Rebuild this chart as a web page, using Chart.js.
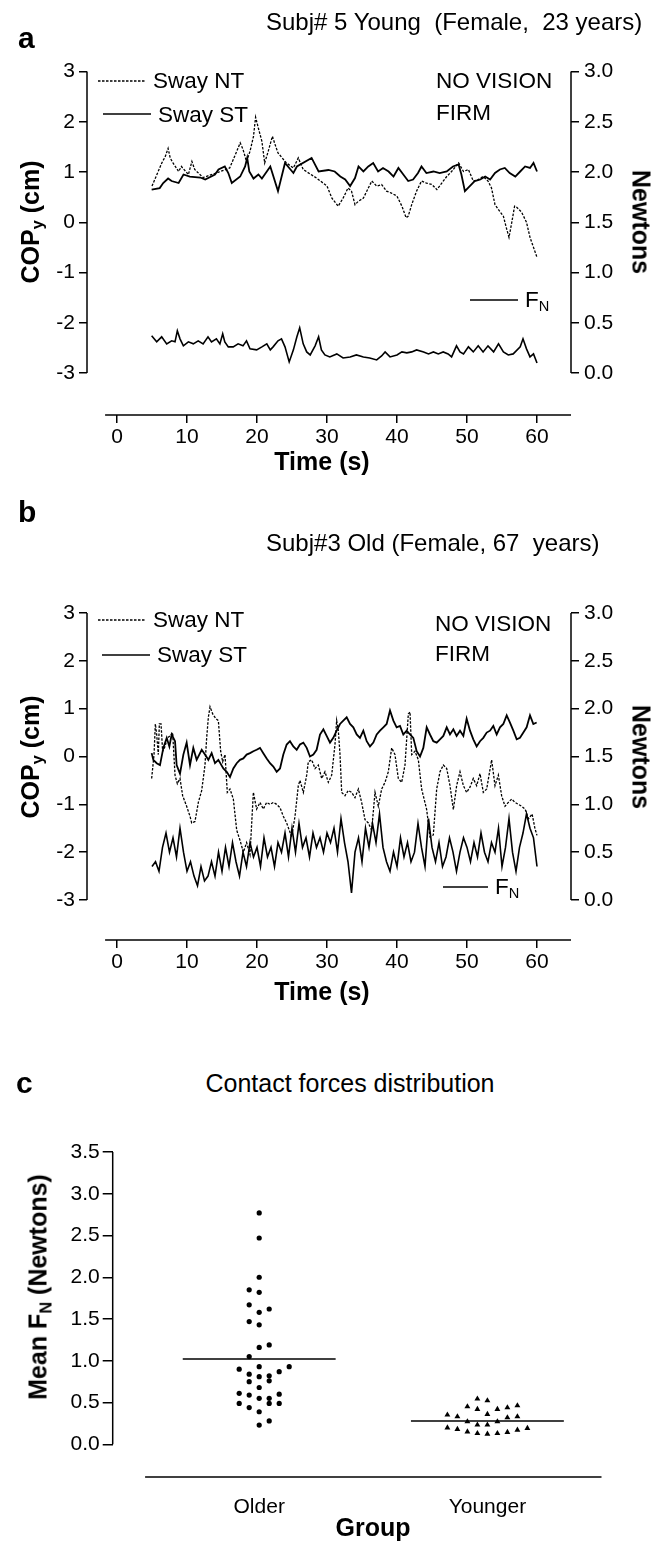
<!DOCTYPE html>
<html><head><meta charset="utf-8">
<script src="https://cdn.jsdelivr.net/npm/chart.js@4.4.1/dist/chart.umd.min.js"></script>
<style>
body{margin:0;background:#fff}
#fig{position:relative;width:654px;height:1547px;overflow:hidden;font-family:'Liberation Sans',Arial,Helvetica,sans-serif;color:#000;background:#fff}
canvas{position:absolute;left:0}
.t{position:absolute;white-space:pre;line-height:1;transform:translateY(-50%)}
.c{position:absolute;white-space:pre;line-height:1;transform:translate(-50%,-50%)}
.rl{position:absolute;white-space:pre;line-height:1;font-weight:bold;transform:translate(-50%,-50%) rotate(-90deg)}
.rr{position:absolute;white-space:pre;line-height:1;font-weight:bold;transform:translate(-50%,-50%) rotate(90deg)}
.letter{font-weight:bold;font-size:30px}
.title{font-size:24px}
.leg{font-size:22.5px}
.ax{font-size:25px}
sub{font-size:0.65em;vertical-align:-0.3em;line-height:0}
svg{position:absolute;overflow:visible}
</style></head>
<body>
<div id="fig">
<canvas id="chartA" width="654" height="480" style="top:0;width:654px;height:480px"></canvas>
<canvas id="chartB" width="654" height="480" style="top:540px;width:654px;height:480px"></canvas>
<canvas id="chartC" width="654" height="447" style="top:1100px;width:654px;height:447px"></canvas>

<div class="t letter" style="left:18px;top:38px">a</div>
<div class="t title" style="left:266px;top:22px">Subj# 5 Young  (Female,  23 years)</div>
<svg style="left:98px;top:80px" width="48" height="2"><line x1="0" y1="1" x2="48" y2="1" stroke="#000" stroke-width="1.3" stroke-dasharray="2.5 1.5"/></svg>
<div class="t leg" style="left:153px;top:81px">Sway NT</div>
<svg style="left:103px;top:113px" width="48" height="2"><line x1="0" y1="1" x2="48" y2="1" stroke="#000" stroke-width="1.6"/></svg>
<div class="t leg" style="left:158px;top:115px">Sway ST</div>
<div class="t leg" style="left:436px;top:81px">NO VISION</div>
<div class="t leg" style="left:436px;top:113px">FIRM</div>
<svg style="left:470px;top:299px" width="48" height="2"><line x1="0" y1="1" x2="48" y2="1" stroke="#000" stroke-width="1.6"/></svg>
<div class="t leg" style="left:525px;top:300px">F<sub>N</sub></div>
<div class="rl ax" style="left:30px;top:222px">COP<sub>y</sub> (cm)</div>
<div class="rr ax" style="left:641px;top:222px">Newtons</div>
<div class="c ax" style="left:322px;top:461px;font-weight:bold">Time (s)</div>

<div class="t letter" style="left:18px;top:512px">b</div>
<div class="t title" style="left:266px;top:543px">Subj#3 Old (Female, 67  years)</div>
<svg style="left:98px;top:619px" width="48" height="2"><line x1="0" y1="1" x2="48" y2="1" stroke="#000" stroke-width="1.3" stroke-dasharray="2.5 1.5"/></svg>
<div class="t leg" style="left:153px;top:620px">Sway NT</div>
<svg style="left:102px;top:654px" width="48" height="2"><line x1="0" y1="1" x2="48" y2="1" stroke="#000" stroke-width="1.6"/></svg>
<div class="t leg" style="left:157px;top:655px">Sway ST</div>
<div class="t leg" style="left:435px;top:624px">NO VISION</div>
<div class="t leg" style="left:435px;top:654px">FIRM</div>
<svg style="left:443px;top:886px" width="45" height="2"><line x1="0" y1="1" x2="45" y2="1" stroke="#000" stroke-width="1.6"/></svg>
<div class="t leg" style="left:495px;top:887px">F<sub>N</sub></div>
<div class="rl ax" style="left:30px;top:757px">COP<sub>y</sub> (cm)</div>
<div class="rr ax" style="left:641px;top:757px">Newtons</div>
<div class="c ax" style="left:322px;top:991px;font-weight:bold">Time (s)</div>

<div class="t letter" style="left:16px;top:1083px">c</div>
<div class="c title" style="left:350px;top:1083px;font-size:25px">Contact forces distribution</div>
<div class="rl ax" style="left:38px;top:1287px">Mean F<sub>N</sub> (Newtons)</div>
<div class="c ax" style="left:373px;top:1527px;font-weight:bold">Group</div>
</div>

<script>
// ---------- tick labels ----------
const timeTicks = [0, 10, 20, 30, 40, 50, 60];
const copTicks = [-3, -2, -1, 0, 1, 2, 3];
const newtonTicks = [0, 0.5, 1, 1.5, 2, 2.5, 3];
const forceTicks = [0, 0.5, 1, 1.5, 2, 2.5, 3, 3.5];
const groups = ['Older', 'Younger'];

// ---------- panel a: Subj# 5 Young ----------
const aTimeNT = [5.0,5.7,6.4,6.9,7.3,7.6,8.0,8.8,9.2,10.2,10.7,11.1,12.3,14.2,16.1,17.1,17.6,18.0,18.5,19.0,19.5,19.8,20.2,20.7,21.1,21.6,22.2,22.6,23.0,24.2,25.2,25.9,26.6,28.5,30.0,30.7,31.6,32.3,33.0,33.5,34.0,34.5,35.2,35.9,36.4,37.1,37.8,38.5,39.2,40.0,40.7,41.3,41.6,42.1,42.8,43.5,44.2,45.0,45.7,46.4,47.1,47.8,48.8,49.5,50.2,50.9,51.6,52.3,53.0,53.5,54.0,54.5,55.2,55.6,56.0,56.4,56.8,57.1,57.8,58.5,59.0,59.5,60.0];
const aCopNT = [0.72,0.95,1.18,1.31,1.47,1.28,1.18,1.01,1.11,0.95,1.21,1.05,0.89,0.98,1.08,1.41,1.58,1.45,1.21,1.41,1.71,2.09,1.87,1.61,1.18,1.41,1.71,1.54,1.38,1.18,1.08,1.28,1.05,0.88,0.72,0.48,0.32,0.48,0.68,0.62,0.35,0.42,0.48,0.68,0.82,0.72,0.75,0.62,0.58,0.52,0.32,0.09,0.12,0.35,0.62,0.82,0.78,0.75,0.65,0.78,0.91,1.01,1.18,1.01,1.05,0.82,0.85,0.91,0.82,0.68,0.35,0.25,0.12,-0.1,-0.3,0.0,0.32,0.3,0.2,0.0,-0.3,-0.5,-0.7];
const aTimeST = [4.95,6.1,6.6,7.3,7.8,8.8,9.5,10.4,11.9,12.6,14.0,14.5,15.4,15.9,16.4,17.6,18.3,18.6,18.9,19.5,20.2,20.7,21.9,23.0,24.0,25.2,25.7,27.8,28.8,30.2,31.1,31.9,32.6,33.3,34.0,34.5,35.2,35.9,36.6,37.3,38.0,38.8,39.5,40.2,40.9,41.6,42.3,43.0,43.5,44.2,45.2,46.1,47.1,48.0,48.8,49.2,49.7,50.4,51.1,51.9,52.6,53.3,54.0,54.7,55.4,56.1,56.9,57.6,58.3,59.0,59.5,60.0];
const aCopST = [0.65,0.68,0.78,0.87,0.82,0.78,0.95,0.91,0.89,0.85,0.95,1.05,1.11,0.98,0.78,0.91,1.11,1.28,1.01,0.87,0.95,0.87,1.11,0.62,1.18,0.98,1.11,1.28,1.01,1.04,1.01,0.91,0.85,0.72,0.88,1.11,1.01,1.11,1.18,1.01,1.08,1.01,0.91,1.08,0.95,0.82,0.85,0.98,1.11,0.98,1.01,0.98,1.01,1.11,1.15,0.95,0.62,0.72,0.82,0.85,0.91,0.85,0.98,1.05,1.08,0.98,0.91,1.01,1.11,1.08,1.18,1.01];
const aTimeFN = [4.95,5.67,6.38,7.1,7.81,8.29,8.62,9.0,9.48,10.2,10.9,11.6,12.3,13.0,13.5,14.2,14.7,15.1,15.4,15.9,16.6,17.3,18.0,18.5,19.0,19.95,20.7,21.4,21.9,22.3,23.0,23.5,24.0,24.6,25.2,25.7,26.1,26.6,27.1,27.6,28.3,28.8,29.2,29.7,30.4,31.4,32.3,33.3,34.2,35.2,36.1,37.1,37.8,38.3,39.0,40.0,40.7,41.4,42.1,42.8,43.8,44.5,45.2,45.9,46.6,47.3,47.8,48.5,49.0,49.5,50.2,50.9,51.6,52.3,53.0,53.8,54.5,55.2,55.9,56.6,57.6,58.0,58.5,59.0,59.5,60.0];
const aForceFN = [0.37,0.31,0.36,0.29,0.32,0.31,0.42,0.34,0.27,0.31,0.29,0.32,0.29,0.36,0.31,0.34,0.29,0.39,0.31,0.26,0.26,0.29,0.27,0.32,0.24,0.23,0.26,0.29,0.23,0.26,0.32,0.34,0.26,0.11,0.23,0.36,0.45,0.29,0.21,0.18,0.27,0.36,0.23,0.18,0.16,0.19,0.15,0.16,0.18,0.16,0.15,0.13,0.17,0.21,0.16,0.18,0.21,0.20,0.21,0.23,0.21,0.19,0.21,0.19,0.21,0.19,0.16,0.27,0.21,0.19,0.26,0.21,0.27,0.21,0.27,0.21,0.29,0.21,0.18,0.19,0.26,0.34,0.24,0.16,0.19,0.10];

// ---------- panel b: Subj#3 Old ----------
const bTimeNT = [4.95,5.29,5.48,5.67,5.9,6.05,6.29,6.52,6.86,7.19,7.57,7.95,8.29,8.62,9.0,9.38,9.95,10.43,10.67,11.14,11.62,12.1,12.57,12.81,13.05,13.29,13.67,14.14,14.48,14.81,15.1,15.43,15.76,16.14,16.62,17.1,17.57,18.05,18.52,19.0,19.48,19.95,20.43,20.9,21.38,21.86,22.33,22.81,23.29,23.76,24.24,24.95,25.43,25.9,26.14,26.62,27.1,27.33,27.81,28.29,28.76,29.24,29.71,30.19,30.67,31.14,31.38,31.62,31.86,32.1,32.57,33.05,33.52,34.0,34.48,34.95,35.43,35.9,36.38,36.86,37.33,37.81,38.29,38.76,39.24,39.71,40.19,40.67,41.14,41.62,41.86,42.1,42.57,43.05,43.52,44.24,44.71,45.19,45.67,46.14,46.62,47.1,47.57,48.05,48.52,49.0,49.48,49.95,50.43,50.9,51.38,51.86,52.33,52.81,53.52,54.0,54.48,54.95,55.43,55.9,56.38,56.86,57.33,57.81,58.3,58.8,59.3,59.7,60.0];
const bCopNT = [-0.46,0.04,0.68,0.46,0.04,0.68,0.68,0.11,0.21,0.39,0.43,0.5,-0.39,-0.57,-0.46,-0.82,-1.04,-1.25,-1.39,-1.36,-0.96,-0.71,-0.18,0.39,0.82,1.04,0.89,0.79,0.75,0.11,-0.11,0.04,-0.75,-0.68,-0.89,-1.54,-1.75,-2.0,-1.8,-2.05,-0.75,-1.1,-0.96,-1.1,-0.96,-1.0,-0.96,-1.0,-1.07,-1.25,-1.39,-1.68,-1.25,-0.61,-0.5,-0.75,-0.39,-0.11,-0.07,-0.25,-0.18,-0.46,-0.32,-0.54,-0.39,0.25,0.75,0.54,0.04,-0.75,-0.82,-0.71,-0.75,-0.86,-0.68,-0.96,-1.32,-1.39,-1.54,-0.75,-1.04,-0.68,-0.54,-0.32,0.18,0.04,-0.46,-0.54,-0.18,0.89,0.93,0.04,0.11,-0.07,-0.68,-1.11,-1.68,-1.64,-0.68,-0.32,-0.18,-0.25,-0.61,-1.11,-0.61,-0.32,-0.61,-0.75,-0.64,-0.46,-0.61,-0.36,-0.75,-0.68,-0.07,-0.61,-0.39,-0.82,-1.04,-0.96,-0.89,-0.96,-1.0,-1.04,-1.1,-1.3,-1.2,-1.5,-1.65];
const bTimeST = [4.95,5.19,5.67,6.14,6.62,7.1,7.48,7.81,8.29,8.52,9.0,9.48,9.95,10.43,10.9,11.38,12.1,12.57,13.05,13.52,14.0,14.48,15.19,15.67,16.14,16.62,17.1,17.57,18.05,18.52,19.0,19.48,19.95,20.43,20.9,21.38,21.86,22.33,22.81,23.29,23.76,24.24,24.71,25.19,25.67,26.14,26.62,27.1,27.57,28.05,28.52,29.0,29.48,29.95,30.43,30.9,31.38,31.86,32.33,32.81,33.29,33.76,34.24,34.71,35.19,35.67,36.14,36.62,37.1,37.57,38.05,38.52,39.0,39.48,39.95,40.43,40.9,41.38,41.86,42.33,42.81,43.29,43.76,44.24,44.71,45.19,45.67,46.14,46.62,47.1,47.57,48.05,48.52,49.0,49.48,49.95,50.43,50.9,51.38,51.86,52.33,52.81,53.29,53.76,54.24,54.71,55.19,55.67,56.14,56.62,57.1,57.57,58.05,58.52,59.0,59.48,59.95];
const bCopST = [0.07,-0.07,-0.14,-0.18,0.18,0.39,0.21,0.46,0.32,-0.18,-0.36,0.04,0.29,-0.18,0.18,-0.07,0.14,0.04,-0.07,0.07,-0.14,-0.07,-0.25,-0.32,-0.43,-0.25,-0.14,-0.07,-0.04,0.04,0.07,0.11,0.14,0.18,0.07,-0.04,-0.14,-0.21,-0.32,-0.25,0.04,0.25,0.32,0.21,0.14,0.25,0.29,0.18,0.0,0.04,0.14,0.46,0.57,0.43,0.29,0.39,0.54,0.68,0.75,0.82,0.68,0.61,0.46,0.39,0.54,0.32,0.21,0.29,0.46,0.54,0.61,0.68,0.96,0.75,0.61,0.64,0.46,0.54,0.46,0.39,0.11,0.0,0.18,0.61,0.46,0.32,0.29,0.36,0.43,0.61,0.46,0.57,0.43,0.54,0.43,0.79,0.54,0.36,0.21,0.32,0.39,0.5,0.54,0.64,0.46,0.61,0.68,0.86,0.71,0.54,0.36,0.39,0.5,0.61,0.86,0.68,0.71];
const bTimeFN = [5.0,5.5,6.0,6.5,7.0,7.5,8.0,8.5,9.0,9.5,10.0,10.5,11.0,11.5,12.0,12.5,13.0,13.5,14.0,14.5,15.0,15.5,16.0,16.5,17.0,17.5,18.0,18.5,19.0,19.5,20.0,20.5,21.0,21.5,22.0,22.5,23.0,23.5,24.0,24.5,25.0,25.5,26.0,26.5,27.0,27.5,28.0,28.5,29.0,29.5,30.0,30.5,31.0,31.5,32.0,32.5,33.0,33.5,34.0,34.5,35.0,35.5,36.0,36.5,37.0,37.5,38.0,38.5,39.0,39.5,40.0,40.5,41.0,41.5,42.0,42.5,43.0,43.5,44.0,44.5,45.0,45.5,46.0,46.5,47.0,47.5,48.0,48.5,49.0,49.5,50.0,50.5,51.0,51.5,52.0,52.5,53.0,53.5,54.0,54.5,55.0,55.5,56.0,56.5,57.0,57.5,58.0,58.5,59.0,59.5,60.0];
const bForceFN = [0.35,0.40,0.30,0.55,0.70,0.50,0.65,0.45,0.75,0.50,0.30,0.40,0.25,0.15,0.35,0.20,0.25,0.40,0.25,0.50,0.30,0.55,0.35,0.60,0.40,0.25,0.50,0.35,0.60,0.45,0.55,0.35,0.65,0.45,0.55,0.35,0.60,0.50,0.70,0.45,0.75,0.50,0.80,0.55,0.65,0.45,0.70,0.55,0.65,0.50,0.70,0.60,0.75,0.50,0.85,0.60,0.40,0.075,0.50,0.65,0.40,0.75,0.55,0.80,0.60,0.90,0.55,0.40,0.30,0.50,0.35,0.65,0.45,0.60,0.40,0.50,0.80,0.55,0.35,0.85,0.55,0.40,0.60,0.35,0.45,0.65,0.50,0.30,0.50,0.65,0.55,0.40,0.60,0.45,0.70,0.50,0.40,0.60,0.50,0.75,0.35,0.55,0.85,0.50,0.30,0.55,0.70,0.90,0.75,0.65,0.35];

// ---------- panel c: contact forces ----------
const olderValues = [2.77,2.47,2.00,1.85,1.82,1.67,1.58,1.62,1.47,1.43,1.16,1.19,1.05,0.90,0.93,0.93,0.87,0.84,0.81,0.82,0.76,0.75,0.68,0.61,0.59,0.55,0.55,0.60,0.49,0.49,0.49,0.44,0.39,0.28,0.23];
const olderColumn = [0,0,0,-1,0,-1,0,1,-1,0,0,1,-1,-2,0,3,2,-1,0,1,1,-1,0,-2,-1,0,1,2,-2,1,2,-1,0,1,0];
const youngerValues = [0.544,0.523,0.451,0.42,0.42,0.439,0.463,0.352,0.331,0.36,0.319,0.331,0.271,0.271,0.232,0.232,0.199,0.18,0.151,0.132,0.124,0.132,0.144,0.172,0.192];
const youngerColumn = [-1,0,-2,-1,1,2,3,-4,-3,0,2,3,-2,1,-1,0,-4,-3,-2,-1,0,1,2,3,4];
const olderMean = 1.02;
const youngerMean = 0.28;

// ---------- helpers ----------
Chart.defaults.font.family = "'Liberation Sans', Arial, sans-serif";
Chart.defaults.color = '#000';

function pts(xs, ys) { return xs.map((x, i) => ({ x: x, y: ys[i] })); }
function tickList(values) { return s => { s.ticks = values.map(v => ({ value: v })); }; }
function fixW(w) { return s => { s.width = w; }; }
function fixH(h) { return s => { s.height = h; }; }
function axisLines(lines) {
  return {
    id: 'axisLines',
    afterDatasetsDraw(chart) {
      const ctx = chart.ctx, a = chart.chartArea;
      ctx.save(); ctx.strokeStyle = '#000'; ctx.lineWidth = 1.5;
      lines.forEach(l => {
        const s = chart.scales[l.scale];
        ctx.beginPath();
        if (s.isHorizontal()) {
          ctx.moveTo(s.getPixelForValue(l.from), a.bottom); ctx.lineTo(s.getPixelForValue(l.to), a.bottom);
        } else {
          const x = s.position === 'left' ? a.left : a.right;
          ctx.moveTo(x, s.getPixelForValue(l.from)); ctx.lineTo(x, s.getPixelForValue(l.to));
        }
        ctx.stroke();
      });
      ctx.restore();
    }
  };
}

function timePanel(id, d, g) {
  const unit = (g.lowPx - g.topPx) / 6;
  const yMin = -3 - (g.axisPx - g.lowPx) / unit;
  const y1Min = -(g.axisPx - g.lowPx) / (2 * unit);
  const xMin = (g.left - g.t0Px) / g.pxPerS, xMax = (g.right - g.t0Px) / g.pxPerS;
  const tickFont = { size: 21 };
  const grid = { drawOnChartArea: false, drawTicks: true, tickLength: 8, color: '#000', lineWidth: 1.5 };
  return new Chart(document.getElementById(id), {
    type: 'line',
    data: { datasets: [
      { label: 'Sway NT', data: pts(d.ntT, d.ntV), yAxisID: 'y', borderDash: [2.5, 1.5], borderWidth: 1.3 },
      { label: 'Sway ST', data: pts(d.stT, d.stV), yAxisID: 'y', borderWidth: 1.8 },
      { label: 'FN', data: pts(d.fnT, d.fnV), yAxisID: 'y1', borderWidth: 1.6 }
    ].map(ds => Object.assign({ borderColor: '#000', pointRadius: 0, tension: 0, fill: false }, ds)) },
    options: {
      responsive: false, animation: false, events: [],
      layout: { padding: { top: g.topPx, left: 0, right: 0, bottom: 0 } },
      plugins: { legend: { display: false }, tooltip: { enabled: false } },
      scales: {
        x: { type: 'linear', min: xMin, max: xMax, afterBuildTicks: tickList(timeTicks), afterFit: fixH(g.H - g.axisPx),
             border: { display: false }, grid: grid,
             ticks: { font: tickFont, padding: 2, maxRotation: 0, autoSkip: false, callback: v => String(v) } },
        y: { type: 'linear', position: 'left', min: yMin, max: 3, afterBuildTicks: tickList(copTicks), afterFit: fixW(g.left),
             border: { display: false }, grid: grid, ticks: { font: tickFont, padding: 4, callback: v => String(v) } },
        y1: { type: 'linear', position: 'right', min: y1Min, max: 3, afterBuildTicks: tickList(newtonTicks), afterFit: fixW(654 - g.right),
             border: { display: false }, grid: grid, ticks: { font: tickFont, padding: 5, callback: v => v.toFixed(1) } }
      }
    },
    plugins: [axisLines([{ scale: 'x', from: g.xLineFrom, to: xMax }, { scale: 'y', from: -3, to: 3 }, { scale: 'y1', from: 0, to: 3 }])]
  });
}

timePanel('chartA',
  { ntT: aTimeNT, ntV: aCopNT, stT: aTimeST, stV: aCopST, fnT: aTimeFN, fnV: aForceFN },
  { H: 480, topPx: 71.5, lowPx: 373, axisPx: 415, left: 87, right: 571, t0Px: 117, pxPerS: 7.0, xLineFrom: -1.7 });
timePanel('chartB',
  { ntT: bTimeNT, ntV: bCopNT, stT: bTimeST, stV: bCopST, fnT: bTimeFN, fnV: bForceFN },
  { H: 480, topPx: 73, lowPx: 360, axisPx: 400, left: 87, right: 571, t0Px: 117, pxPerS: 7.0, xLineFrom: -1.7 });

// panel c
(function () {
  const H = 447, top = 52, zeroPx = 344.3, axisPx = 377, left = 112.7, right = 602;
  const olderPx = 259.2, pxPerGroup = 228.2;
  const JIT = 10 / pxPerGroup, HALF = 0.335;
  const unit = (zeroPx - top) / 3.5;
  const yMin = -(axisPx - zeroPx) / unit;
  const xMin = 1 - (olderPx - left) / pxPerGroup, xMax = 1 + (right - olderPx) / pxPerGroup;
  const tickFont = { size: 21 };
  new Chart(document.getElementById('chartC'), {
    type: 'scatter',
    data: { datasets: [
      { data: olderValues.map((v, i) => ({ x: 1 + olderColumn[i] * JIT, y: v })), pointStyle: 'circle', pointRadius: 2.6, borderWidth: 0, backgroundColor: '#000', borderColor: '#000' },
      { data: youngerValues.map((v, i) => ({ x: 2 + youngerColumn[i] * JIT, y: v })), pointStyle: 'triangle', pointRadius: 3.4, borderWidth: 0, backgroundColor: '#000', borderColor: '#000' },
      { type: 'line', data: [{ x: 1 - HALF, y: olderMean }, { x: 1 + HALF, y: olderMean }], borderColor: '#000', borderWidth: 1.5, pointRadius: 0 },
      { type: 'line', data: [{ x: 2 - HALF, y: youngerMean }, { x: 2 + HALF, y: youngerMean }], borderColor: '#000', borderWidth: 1.5, pointRadius: 0 }
    ] },
    options: {
      responsive: false, animation: false, events: [],
      layout: { padding: { top: top, left: 0, right: 654 - right, bottom: 0 } },
      plugins: { legend: { display: false }, tooltip: { enabled: false } },
      scales: {
        x: { type: 'linear', min: xMin, max: xMax, afterBuildTicks: tickList([1, 2]), afterFit: fixH(H - axisPx),
             border: { display: false }, grid: { display: false },
             ticks: { font: tickFont, padding: 10, maxRotation: 0, autoSkip: false, callback: v => groups[v - 1] } },
        y: { type: 'linear', min: yMin, max: 3.5, afterBuildTicks: tickList(forceTicks), afterFit: fixW(left),
             border: { display: false }, grid: { drawOnChartArea: false, drawTicks: true, tickLength: 10, color: '#000', lineWidth: 1.5 },
             ticks: { font: tickFont, padding: 3, callback: v => v.toFixed(1) } }
      }
    },
    plugins: [axisLines([{ scale: 'x', from: 0.5, to: 2.5 }, { scale: 'y', from: 0, to: 3.5 }])]
  });
})();
</script>
</body></html>
